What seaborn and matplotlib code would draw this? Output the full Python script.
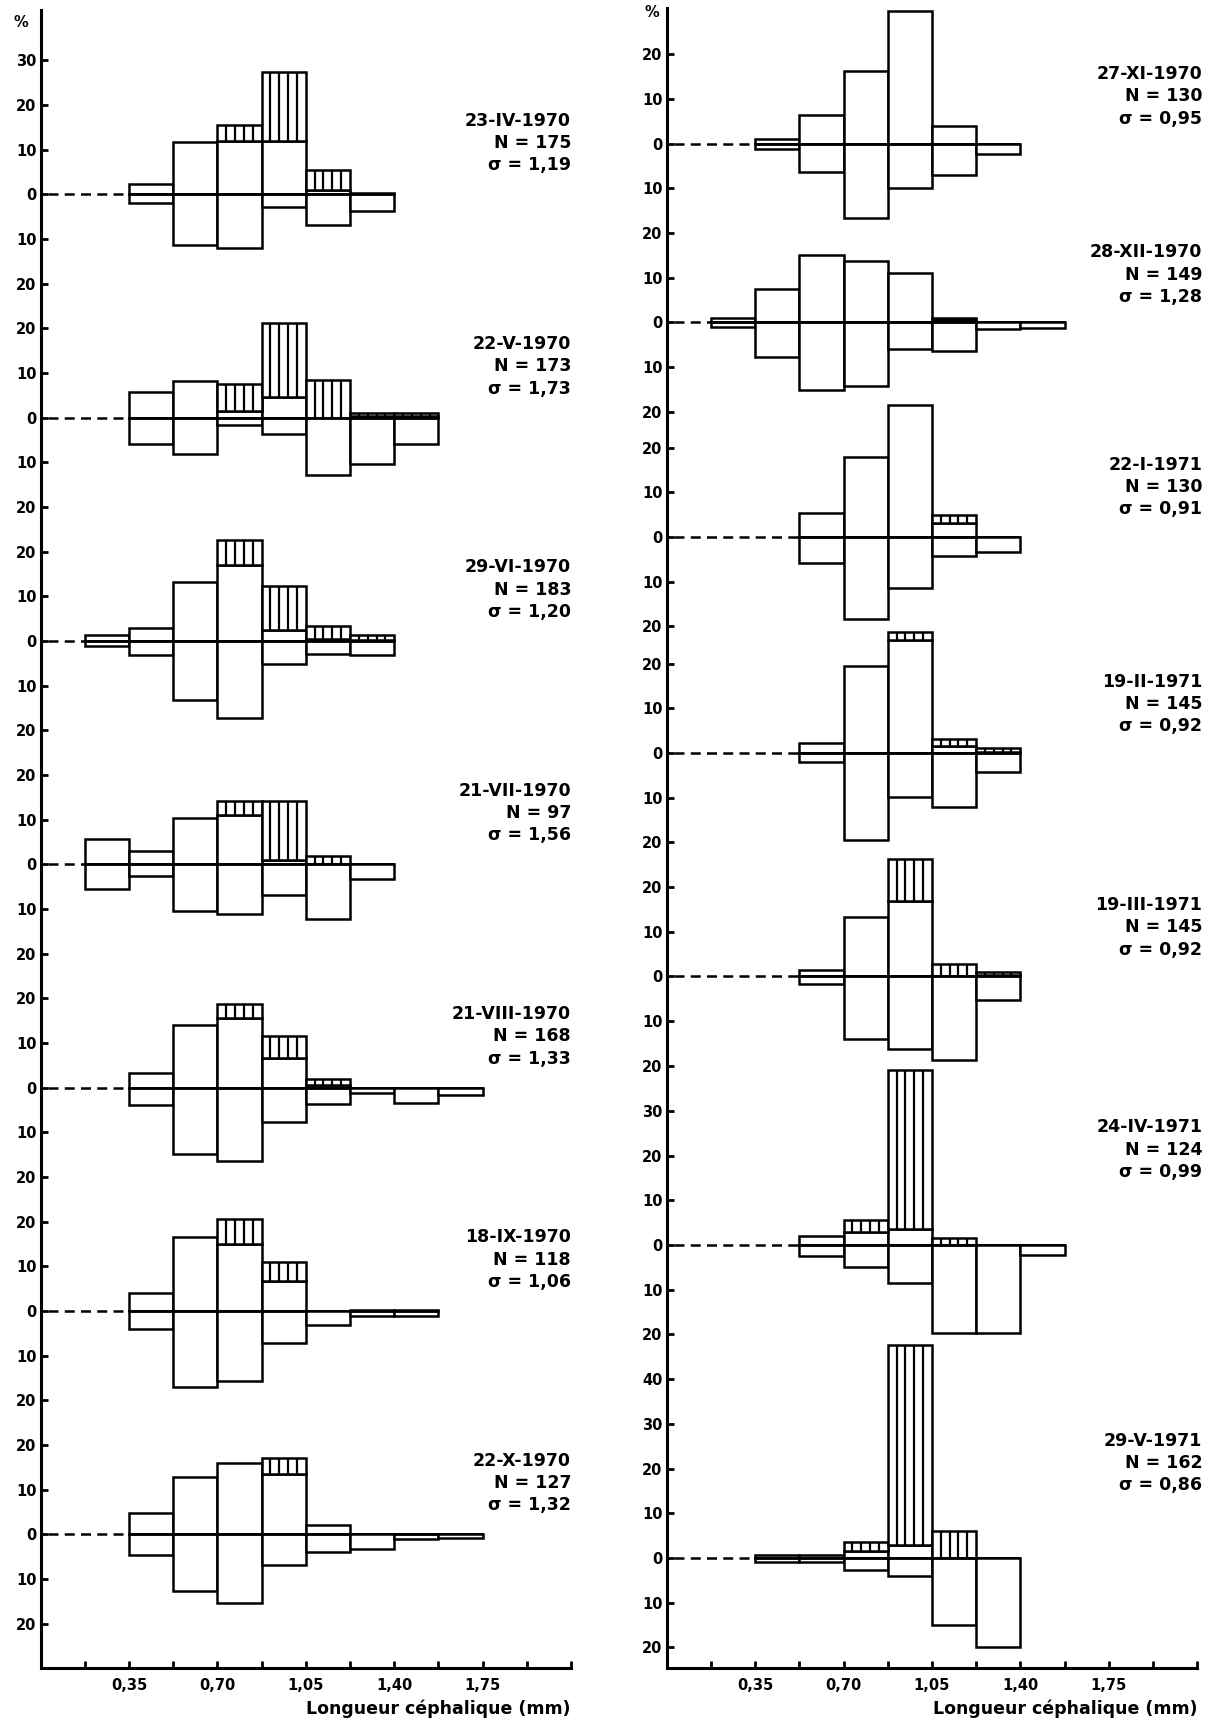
import numpy as np
import matplotlib
matplotlib.use("Agg")
import matplotlib.pyplot as plt
import seaborn as sns

# size classes (head length, mm): lower edges, width 0.175
CLASS_START = [0.175, 0.35, 0.525, 0.70, 0.875, 1.05, 1.225, 1.40, 1.575]
CLASS_WIDTH = 0.175

# left column, one row per sampling date
LEFT_DATES = ["23-IV-1970", "22-V-1970", "29-VI-1970", "21-VII-1970",
              "21-VIII-1970", "18-IX-1970", "22-X-1970"]
LEFT_N = [175, 173, 183, 97, 168, 118, 127]
LEFT_SIGMA = ["1,19", "1,73", "1,20", "1,56", "1,33", "1,06", "1,32"]
LEFT_UP = [
    [0, 2.3, 11.7, 12.0, 12.0, 1.0, 0.4, 0, 0],
    [0, 5.7, 8.2, 1.5, 4.7, 0, 0.3, 0.3, 0],
    [1.3, 3.0, 13.3, 17.1, 2.4, 0.4, 0.3, 0, 0],
    [5.7, 3.0, 10.4, 11.0, 1.0, 0, 0, 0, 0],
    [0, 3.2, 14.1, 15.6, 6.6, 0.7, 0, 0, 0],
    [0, 4.0, 16.6, 15.1, 6.7, 0, 0.3, 0.3, 0],
    [0, 4.7, 12.8, 16.1, 13.6, 2.2, 0, 0.2, 0],
]
LEFT_HATCH = [
    [0, 0, 0, 3.6, 15.5, 4.5, 0, 0, 0],
    [0, 0, 0, 6.0, 16.6, 8.4, 0.8, 0.8, 0],
    [0, 0, 0, 5.5, 9.9, 2.9, 1.0, 0, 0],
    [0, 0, 0, 3.3, 13.3, 2.0, 0, 0, 0],
    [0, 0, 0, 3.2, 5.0, 1.2, 0, 0, 0],
    [0, 0, 0, 5.6, 4.4, 0, 0, 0, 0],
    [0, 0, 0, 0, 3.6, 0, 0, 0, 0],
]
LEFT_LOW = [
    [0, 1.9, 11.4, 12.0, 2.8, 6.8, 3.7, 0, 0],
    [0, 5.8, 8.2, 1.5, 3.7, 12.7, 10.3, 5.8, 0],
    [1.0, 3.2, 13.2, 17.1, 5.1, 2.9, 3.0, 0, 0],
    [5.6, 2.5, 10.4, 11.2, 6.9, 12.2, 3.2, 0, 0],
    [0, 3.9, 14.8, 16.3, 7.6, 3.7, 1.1, 3.5, 1.6],
    [0, 4.1, 16.9, 15.6, 7.1, 3.2, 1.2, 1.2, 0],
    [0, 4.5, 12.6, 15.4, 6.9, 3.9, 3.3, 1.0, 0.9],
]
LEFT_TICKS = [[30, 20, 10, 0, -10, -20]] + [[20, 10, 0, -10, -20]] * 6

# right column
RIGHT_DATES = ["27-XI-1970", "28-XII-1970", "22-I-1971", "19-II-1971",
               "19-III-1971", "24-IV-1971", "29-V-1971"]
RIGHT_N = [130, 149, 130, 145, 145, 124, 162]
RIGHT_SIGMA = ["0,95", "1,28", "0,91", "0,92", "0,92", "0,99", "0,86"]
RIGHT_UP = [
    [0, 1.0, 6.5, 16.3, 29.7, 3.9, 0, 0, 0],
    [0.9, 7.6, 15.1, 13.8, 11.1, 0.5, 0, 0, 0],
    [0, 0, 5.4, 17.8, 29.6, 3.1, 0, 0, 0],
    [0, 0, 2.2, 19.4, 25.4, 1.5, 0.2, 0, 0],
    [0, 0, 1.5, 13.3, 16.9, 0, 0.3, 0, 0],
    [0, 0, 2.0, 3.0, 3.5, 0, 0, 0, 0],
    [0, 0.6, 0.6, 1.5, 3.0, 0, 0, 0, 0],
]
RIGHT_HATCH = [
    [0, 0, 0, 0, 0, 0, 0, 0, 0],
    [0, 0, 0, 0, 0, 0.6, 0, 0, 0],
    [0, 0, 0, 0, 0, 1.7, 0, 0, 0],
    [0, 0, 0, 0, 1.7, 1.6, 0.9, 0, 0],
    [0, 0, 0, 0, 9.5, 2.8, 0.6, 0, 0],
    [0, 0, 0, 2.6, 35.6, 1.6, 0, 0, 0],
    [0, 0, 0, 2.2, 44.8, 6.1, 0, 0, 0],
]
RIGHT_LOW = [
    [0, 1.1, 6.4, 16.6, 10.0, 6.9, 2.2, 0, 0],
    [1.1, 7.8, 15.1, 14.2, 6.0, 6.3, 1.5, 1.2, 0],
    [0, 0, 5.9, 18.3, 11.4, 4.3, 3.4, 0, 0],
    [0, 0, 2.0, 19.4, 9.9, 12.1, 4.3, 0, 0],
    [0, 0, 1.7, 14.0, 16.3, 18.7, 5.2, 0, 0],
    [0, 0, 2.5, 4.9, 8.5, 19.6, 19.6, 2.2, 0],
    [0, 0.9, 0.9, 2.6, 4.1, 15.0, 19.9, 0, 0],
]
RIGHT_TICKS = [
    [20, 10, 0, -10, -20],
    [10, 0, -10, -20],
    [20, 10, 0, -10, -20],
    [20, 10, 0, -10, -20],
    [20, 10, 0, -10, -20],
    [30, 20, 10, 0, -10, -20],
    [40, 30, 20, 10, 0, -10, -20],
]

X_TICK_LABELS = ["0,35", "0,70", "1,05", "1,40", "1,75"]
X_LABEL = "Longueur céphalique (mm)"

# layout: baseline of each panel within its column, label height above it
LEFT_BASE = [0, -50, -100, -150, -200, -250, -300]
RIGHT_BASE = [0, -40, -88, -136.4, -186.4, -246.5, -316.6]
LEFT_TEXT_Y = [16.5] * 7
RIGHT_TEXT_Y = [15.6, 15.7, 16.2, 16.0, 16.0, 26.3, 26.3]

LW = 1.8
FS_TICK = 10.5
FS_TEXT = 12.5

sns.set_theme(style="ticks")
plt.rcParams["font.family"] = ["DejaVu Sans"]
plt.rcParams["font.weight"] = "bold"
plt.rcParams["text.color"] = "black"
plt.rcParams["axes.labelcolor"] = "black"


def draw_panel(ax, base, up, hatch, low):
    x = np.asarray(CLASS_START)
    up = np.asarray(up, dtype=float)
    hatch = np.asarray(hatch, dtype=float)
    low = np.asarray(low, dtype=float)
    kw = dict(width=CLASS_WIDTH, align="edge", color="white",
              edgecolor="black", linewidth=LW)

    m = low > 0
    ax.bar(x[m], -low[m], bottom=base, **kw)
    m = up > 0
    ax.bar(x[m], up[m], bottom=base, **kw)
    m = hatch > 0
    ax.bar(x[m], hatch[m], bottom=base + up[m], **kw)

    # vertical hatching, four strokes per class
    for xi, u, h in zip(x[m], up[m], hatch[m]):
        xs = xi + CLASS_WIDTH * np.arange(1, 5) / 5
        ax.vlines(xs, base + u, base + u + h, color="black", linewidth=1.6)

    used = np.where((up + hatch + low) > 0)[0]
    x0 = x[used[0]]
    x1 = x[used[-1]] + CLASS_WIDTH
    ax.plot([0.03, x0], [base, base], color="black", linewidth=1.8,
            linestyle=(0, (4, 2.5)))
    ax.plot([x0, x1], [base, base], color="black", linewidth=1.4)


def style_axis(ax, ylim):
    ax.set_xlim(0, 2.1)
    ax.set_ylim(*ylim)
    sns.despine(ax=ax)
    for side in ["left", "bottom"]:
        ax.spines[side].set_linewidth(2.2)
        ax.spines[side].set_color("black")
    ticks = np.arange(1, 13) * CLASS_WIDTH
    labels = ["" for _ in ticks]
    for i, lab in zip([1, 3, 5, 7, 9], X_TICK_LABELS):
        labels[i] = lab
    ax.set_xticks(ticks)
    ax.set_xticklabels(labels, fontsize=FS_TICK, fontweight="bold")
    ax.tick_params(axis="x", direction="in", length=5, width=2,
                   color="black", pad=7, labelcolor="black")
    ax.tick_params(axis="y", direction="in", length=5, width=2,
                   color="black", pad=3, labelcolor="black")
    ax.annotate(X_LABEL, xy=(2.1, 0), xycoords=("data", "axes fraction"),
                xytext=(0, -29), textcoords="offset points",
                ha="right", va="center", fontsize=12.5, fontweight="bold")
    ax.grid(False)


def add_column(ax, bases, ups, hatches, lows, ticks, dates, ns, sigmas,
               text_y, text_x):
    ypos, ylab = [], []
    for i, base in enumerate(bases):
        draw_panel(ax, base, ups[i], hatches[i], lows[i])
        for t in ticks[i]:
            ypos.append(base + t)
            ylab.append(str(abs(t)))
        lines = [dates[i], f"N = {ns[i]}", f"σ = {sigmas[i]}"]
        for j, line in enumerate(lines):
            ax.text(text_x, base + text_y[i] - 5.0 * j, line, ha="right",
                    va="center", fontsize=FS_TEXT, fontweight="bold",
                    clip_on=False)
    ax.set_yticks(ypos)
    ax.set_yticklabels(ylab, fontsize=FS_TICK, fontweight="bold")


fig = plt.figure(figsize=(12.18, 17.22), dpi=100)
ax_l = fig.add_axes([40.6 / 1218, 1 - 1668 / 1722, 530.4 / 1218, 1658 / 1722])
ax_r = fig.add_axes([666.7 / 1218, 1 - 1668 / 1722, 530.4 / 1218, 1660 / 1722])

style_axis(ax_l, (-329.9, 41.3))
style_axis(ax_r, (-341.2, 30.4))

add_column(ax_l, LEFT_BASE, LEFT_UP, LEFT_HATCH, LEFT_LOW, LEFT_TICKS,
           LEFT_DATES, LEFT_N, LEFT_SIGMA, LEFT_TEXT_Y, 2.1)
add_column(ax_r, RIGHT_BASE, RIGHT_UP, RIGHT_HATCH, RIGHT_LOW, RIGHT_TICKS,
           RIGHT_DATES, RIGHT_N, RIGHT_SIGMA, RIGHT_TEXT_Y, 2.12)

ax_l.text(-0.08, 38.6, "%", ha="center", va="center", fontsize=FS_TICK,
          fontweight="bold", clip_on=False)
ax_r.text(-0.06, 29.3, "%", ha="center", va="center", fontsize=FS_TICK,
          fontweight="bold", clip_on=False)

fig.savefig("out.png", dpi=100, facecolor="white")
